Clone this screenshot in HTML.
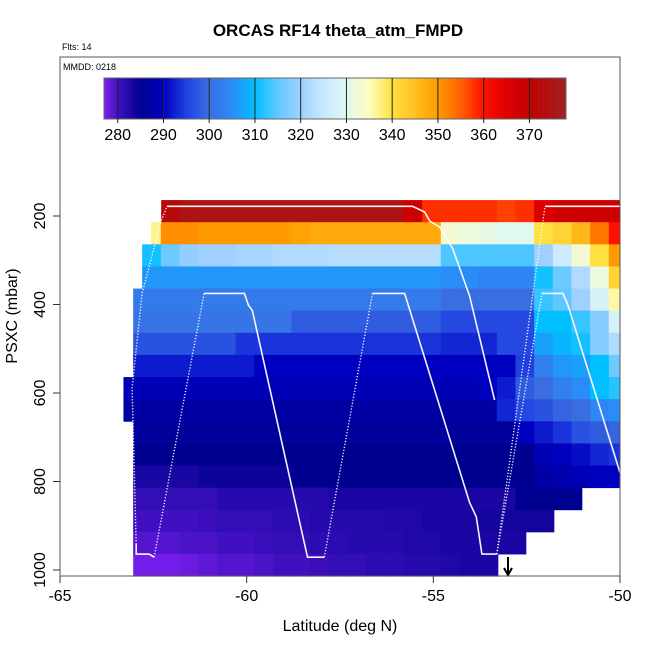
<!DOCTYPE html>
<html><head><meta charset="utf-8"><style>
body{margin:0;background:#fff;}
svg{display:block;font-family:"Liberation Sans",Arial,sans-serif;}
</style></head><body>
<svg id="chart" width="650" height="650" viewBox="0 0 650 650">
<text x="338" y="36" font-size="17" font-weight="bold" text-anchor="middle">ORCAS RF14 theta_atm_FMPD</text>
<text x="62" y="50" font-size="9">Flts: 14</text>
<g id="cells"></g>
<g id="tracks"></g>
<rect x="60" y="57" width="560" height="519" fill="none" stroke="#555" stroke-width="1"/>
<text x="63" y="70" font-size="9">MMDD: 0218</text>
<g id="cbar"></g>
<g id="axes"></g>
<text x="340" y="631" font-size="16" text-anchor="middle">Latitude (deg N)</text>
<text transform="translate(17,316) rotate(-90)" font-size="16" text-anchor="middle">PSXC (mbar)</text>
</svg>
<script>
// ---- data ----
const colStartLat = -63.3;
const colWidth = 0.5;
const rowTopP = 164;
const rowHeightP = 50;
const rowStartLat = [-62.29,-62.56,-62.8,-62.8,-63.04,-63.04,-63.04,-63.04,-63.31,-63.31,-63.04,-63.04,-63.04,-63.04,-63.04,-63.04,-63.04];
const rowEndLat = [-50,-50,-50,-50,-50,-50,-50,-50,-50,-50,-50,-50,-50,-51.02,-51.77,-52.52,-53.27];
const theta = [
 [375,375,372,375,375,375,375,375,375,375,375,375,375,375,375,368,358,358,358,358,357,358,366,368,368,368,368],
 [337,337,351,351,350,350,350,350,350,349,348,348,348,348,348,348,348,333,332,331,330,330,340,342,346,353,360],
 [311,311,316,319,320,320,321,321,322,322,322,323,323,323,323,323,323,314,314,314,314,314,320,326,333,340,350],
 [306,306,306,306,306,306,306,306,306,306,306,306,306,306,306,306,306,305,305,304,304,304,311,316,322,332,342],
 [302,302,302,302,302,302,302,302,302,302,302,302,302,302,302,302,302,300,300,300,300,300,313,315,320,328,336],
 [301,301,301,301,301,301,301,301,301,298,298,298,298,298,298,298,298,296,296,296,296,296,310,310,313,318,328],
 [297,297,297,297,297,297,294,294,294,294,294,294,294,294,294,294,294,293,293,293,296,296,307,309,311,318,322],
 [292,292,292,292,292,292,292,290,290,290,290,290,290,290,290,290,290,290,290,290,290,295,303,306,307,310,316],
 [289,289,289,289,289,289,289,289,289,289,289,289,289,289,289,289,289,289,289,290,292,298,300,303,305,310,312],
 [287,287,287,287,287,287,287,287,287,287,287,287,287,287,287,287,287,287,287,287,293,296,297,299,300,304,305],
 [286,286,286,286,286,286,286,286,286,286,286,286,286,286,286,286,286,286,286,286,286,290,292,294,297,298,299],
 [285,285,285,285,285,285,285,285,285,285,285,285,285,285,285,285,285,285,285,285,285,285,289,290,291,293,294],
 [283,283,283,283,284,284,284,284,284,285,285,285,285,285,285,285,285,285,285,285,285,285,287,288,289,290,290],
 [281,281,281,281,281,282,282,282,282,282,282,283,283,283,283,283,283,283,283,283,283,285,285,285,285,285,285],
 [280,280,280,280,280.5,281,281,281,281.5,281.5,282,282,282,282,282.5,282.5,283,283,283,283.5,283.5,283.5,283.5,283.5,283.5,283.5,283.5],
 [279,279,279,279.5,279.5,280,280,280.5,281,281,281.5,281.5,282,282,282,282.5,282.5,283,283,283,283,283,283,283,283,283,283],
 [277.5,277.5,277.5,278,278.5,279,279,279.5,280,280,280.5,281,281,281.5,281.5,282,282,282.5,283,283,283,283,283,283,283,283,283]
];
const cbarTicks = [280,290,300,310,320,330,340,350,360,370];
const xTicks = [-65,-60,-55,-50];
const yTicks = [200,400,600,800,1000];
const solidTracks = [
 [[-62.96,942],[-62.96,964],[-62.61,964],[-62.48,971]],
 [[-62.13,178],[-55.56,178],[-55.23,191],[-55.1,211],[-54.83,225],[-54.48,274],[-54.03,380],[-53.36,616]],
 [[-61.14,375],[-60.06,375],[-59.95,402],[-59.85,413],[-58.37,971],[-57.92,971]],
 [[-56.63,375],[-55.77,375],[-54.03,847],[-53.85,880],[-53.7,964],[-53.3,964]],
 [[-52.09,375],[-51.53,375],[-51.4,400],[-50.0,780]],
 [[-52.01,178],[-50.0,178]]
];
const dottedTracks = [
 [[-62.96,942],[-63.07,589],[-62.8,375],[-62.29,211],[-62.13,178]],
 [[-62.48,971],[-61.14,375]],
 [[-57.92,971],[-56.63,375]],
 [[-53.3,964],[-52.09,375]],
 [[-53.3,964],[-52.01,178]]
];
const arrowLat = -53.0;

// ---- scales ----
const X = lat => 60 + (lat + 65) * (560 / 15);
const Y = p => 216 + (p - 200) * 0.4425;
const cbMin = 277, cbMax = 378, cbX0 = 104, cbX1 = 566;
const CX = v => cbX0 + (v - cbMin) / (cbMax - cbMin) * (cbX1 - cbX0);
const stops = [
 [277,[128,32,240]],[280,[64,16,192]],[285,[0,0,144]],[290,[0,0,192]],[295,[32,64,224]],
 [300,[58,110,224]],[305,[42,140,248]],[310,[0,191,255]],[315,[96,200,255]],[320,[160,208,255]],
 [325,[200,232,255]],[330,[224,248,240]],[335,[255,252,192]],[340,[255,224,64]],[345,[255,192,32]],
 [350,[255,154,0]],[355,[255,96,0]],[360,[255,16,0]],[365,[224,0,0]],[370,[192,0,0]],[378,[160,32,32]]
];
function color(v){
 if(v<=stops[0][0]) return 'rgb('+stops[0][1]+')';
 for(let i=1;i<stops.length;i++){
  if(v<=stops[i][0]){
   const a=stops[i-1],b=stops[i],t=(v-a[0])/(b[0]-a[0]);
   const c=a[1].map((q,j)=>Math.round(q+(b[1][j]-q)*t));
   return 'rgb('+c+')';
  }
 }
 return 'rgb('+stops[stops.length-1][1]+')';
}
const NS='http://www.w3.org/2000/svg';
function mk(tag,attrs,parent){const e=document.createElementNS(NS,tag);for(const k in attrs)e.setAttribute(k,attrs[k]);parent.appendChild(e);return e;}

// ---- heatmap ----
const cells=document.getElementById('cells');
theta.forEach((row,r)=>{
 row.forEach((v,c)=>{
  let l0=colStartLat+c*colWidth, l1=l0+colWidth;
  l0=Math.max(l0,rowStartLat[r]); l1=Math.min(l1,rowEndLat[r]);
  if(l1<=l0) return;
  const y0=Y(rowTopP+r*rowHeightP), y1=Y(rowTopP+(r+1)*rowHeightP);
  const e=mk('rect',{x:X(l0).toFixed(2),y:y0.toFixed(2),width:(X(l1)-X(l0)+0.4).toFixed(2),height:(y1-y0+0.4).toFixed(2),fill:color(v)},cells);
  
  
 });
});

// ---- tracks ----
const tr=document.getElementById('tracks');
const pts=a=>a.map(p=>X(p[0]).toFixed(1)+','+Y(p[1]).toFixed(1)).join(' ');
solidTracks.forEach(t=>{
 const e=mk('polyline',{points:pts(t),fill:'none',stroke:'#fff','stroke-width':1.6,opacity:0.95},tr);
 
 
});
dottedTracks.forEach(t=>{
 const e=mk('polyline',{points:pts(t),fill:'none',stroke:'#fff','stroke-width':1.4,'stroke-dasharray':'1.2 1.8',opacity:0.95},tr);
 
 
});
const ax0=X(arrowLat);
const arr=mk('path',{d:`M${ax0},557 L${ax0},575 M${ax0-4},568 L${ax0},575 L${ax0+4},568`,stroke:'#000','stroke-width':2,fill:'none'},tr);



// ---- colorbar ----
const cb=document.getElementById('cbar');
for(let v=cbMin;v<cbMax;v+=0.25){
 const e=mk('rect',{x:CX(v).toFixed(2),y:78,width:(CX(v+0.25)-CX(v)+0.3).toFixed(2),height:41,fill:color(v+0.125)},cb);
 
 
}
const cbb=mk('rect',{x:cbX0,y:78,width:cbX1-cbX0,height:41,fill:'none',stroke:'#666','stroke-width':1},cb);


cbarTicks.forEach(t=>{
 const ln=mk('line',{x1:CX(t),x2:CX(t),y1:78,y2:123,stroke:'#222','stroke-width':1},cb);
 
 
 const tx=mk('text',{x:CX(t),y:140,'font-size':16,'text-anchor':'middle'},cb);
 tx.textContent=t;
 
 
});

// ---- axes ----
const ax=document.getElementById('axes');
xTicks.forEach(t=>{
 const ln=mk('line',{x1:X(t),x2:X(t),y1:576,y2:583,stroke:'#333'},ax);
 
 
 const tx=mk('text',{x:X(t),y:601,'font-size':16,'text-anchor':'middle'},ax);
 tx.textContent=t;
 
 
});
yTicks.forEach(t=>{
 const ln=mk('line',{x1:53,x2:60,y1:Y(t),y2:Y(t),stroke:'#333'},ax);
 
 
 const tx=mk('text',{transform:`translate(45,${Y(t)}) rotate(-90)`,'font-size':16,'text-anchor':'middle'},ax);
 tx.textContent=t;
 
 
});
</script>
</body></html>
